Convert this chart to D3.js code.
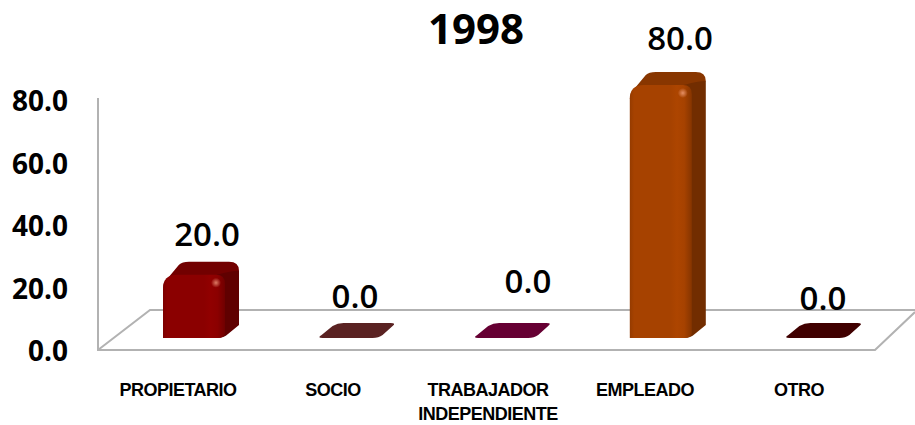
<!DOCTYPE html>
<html>
<head>
<meta charset="utf-8">
<script src="https://cdn.jsdelivr.net/npm/d3@7"></script>
<style>
  html, body { margin: 0; padding: 0; background: #fff; }
  text { font-family: "Open Sans", "Noto Sans", sans-serif; fill: #000; }
</style>
</head>
<body>
<div id="chart"></div>
<script>
// Chart data
const title = "1998";
const categories = ["PROPIETARIO", "SOCIO", "TRABAJADOR INDEPENDIENTE", "EMPLEADO", "OTRO"];
const values = [20, 0, 0, 80, 0];
const yTicks = [0, 20, 40, 60, 80];
const colors = ["#8b0000", "#5a2222", "#660033", "#a64200", "#400000"];

// Set up dimensions
const width = 915;
const height = 425;
const depthX = 14;
const depthY = 13;
const barWidth = 62;
const barBase = 338;
const floor = {x0: 98, x1: 875, front: 350, backX0: 150, backX1: 915, back: 310};

const svg = d3.select("#chart")
    .append("svg")
    .attr("width", width)
    .attr("height", height)
    .style("display", "block");

// Scales
const xScale = d3.scaleBand()
    .domain(categories)
    .range([115, 893])
    .padding(0);

// tick labels sit on the back of the floor, bars on a slightly different baseline
const yScale = d3.scaleLinear()
    .domain([0, 80])
    .range([351, 101]);

const barScale = d3.scaleLinear()
    .domain([0, 80])
    .range([barBase, 85]);

const barLeft = d => xScale(d) + (xScale.bandwidth() - barWidth) / 2 + 1.2;

// Floor and wall lines
svg.append("path")
    .attr("d", `M${floor.x0},98 V${floor.front} H${floor.x1} L${floor.backX1},${floor.back + 2}
                M${floor.x0},${floor.front} L${floor.backX0},${floor.back} H${floor.backX1}`)
    .attr("fill", "none")
    .attr("stroke", "#b2b2b2")
    .attr("stroke-width", 2);

// Y axis labels
const yAxis = d3.axisLeft(yScale)
    .tickValues(yTicks)
    .tickFormat(d3.format(".1f"))
    .tickSize(0)
    .tickPadding(30);

svg.append("g")
    .attr("transform", `translate(${floor.x0},0)`)
    .call(yAxis)
    .call(g => g.select(".domain").remove())
    .selectAll("text")
    .style("font-family", '"Open Sans", sans-serif')
    .style("font-size", "28px")
    .style("font-weight", "bold")
    .attr("dy", "0.35em");

// Gradients for the bar fronts
const defs = svg.append("defs");
categories.forEach((c, i) => {
    const g = defs.append("linearGradient")
        .attr("id", "front-" + i)
        .attr("x1", "0%").attr("x2", "100%");
    const base = d3.color(colors[i]);
    g.append("stop").attr("offset", "0%").attr("stop-color", base.darker(0.3));
    g.append("stop").attr("offset", "7%").attr("stop-color", base);
    g.append("stop").attr("offset", "66%").attr("stop-color", base);
    g.append("stop").attr("offset", "76%").attr("stop-color", base.brighter(0.12));
    g.append("stop").attr("offset", "88%").attr("stop-color", base);
    g.append("stop").attr("offset", "100%").attr("stop-color", base.darker(0.6));
});

const highlight = defs.append("radialGradient").attr("id", "glint");
highlight.append("stop").attr("offset", "0%").attr("stop-color", "#ffb090").attr("stop-opacity", 0.7);
highlight.append("stop").attr("offset", "100%").attr("stop-color", "#ffb090").attr("stop-opacity", 0);

// Bars
categories.forEach((c, i) => {
    const v = values[i];
    const x = barLeft(c);
    const yT = barScale(v);
    const base = d3.color(colors[i]);
    const right = x + barWidth;
    const g = svg.append("g");

    if (v === 0) {
        // empty bar is only a flat plate on the floor
        g.append("path")
            .attr("d", `M${x + 4},${barBase} Q${x - 2},${barBase} ${x + 3},${barBase - 3}
                        L${x + 14},${barBase - 12} Q${x + 19},${barBase - 15} ${x + 25},${barBase - 15}
                        H${right + depthX - 4} Q${right + depthX + 2},${barBase - 15} ${right + depthX - 2},${barBase - 12}
                        L${right + 2},${barBase - 3} Q${right - 2},${barBase} ${right - 8},${barBase} Z`)
            .attr("fill", colors[i]);
        return;
    }

    // top face
    g.append("path")
        .attr("d", `M${x},${yT + 14} Q${x},${yT + 6} ${x + 6},${yT + 2}
                    L${x + 16},${yT - depthY + 3} Q${x + 19},${yT - depthY} ${x + 26},${yT - depthY}
                    H${right + 4} Q${right + depthX},${yT - depthY} ${right + depthX},${yT - depthY + 9}
                    L${right},${yT + 10} Z`)
        .attr("fill", base.darker(0.55));

    // side face
    g.append("path")
        .attr("d", `M${right - 8},${yT} Q${right + 6},${yT - 4} ${right + depthX},${yT - 4}
                    V${barBase - depthY} L${right + 3},${barBase - 4}
                    Q${right - 1},${barBase} ${right - 8},${barBase} Z`)
        .attr("fill", base.darker(1.05));

    // front face
    g.append("path")
        .attr("d", `M${x},${barBase} V${yT + 14} Q${x},${yT} ${x + 14},${yT}
                    H${right - 9} Q${right},${yT} ${right},${yT + 9}
                    V${barBase - 5} Q${right},${barBase} ${right - 8},${barBase} H${x} Z`)
        .attr("fill", `url(#front-${i})`);

    g.append("circle")
        .attr("cx", right - 9)
        .attr("cy", yT + 8)
        .attr("r", 5)
        .attr("fill", "url(#glint)");
});

// Value labels, nudged the way they sit in the chart
const labelCx = [207, 355, 528, 680, 823];
const labelY = [246, 308, 293, 50, 310];
svg.selectAll(".value")
    .data(values)
    .enter()
    .append("text")
    .attr("class", "value")
    .attr("x", (d, i) => labelCx[i])
    .attr("y", (d, i) => labelY[i])
    .attr("text-anchor", "middle")
    .style("font-size", "33px")
    .style("font-weight", "600")
    .text(d => d3.format(".1f")(d));

// Category labels
const labelLines = {"TRABAJADOR INDEPENDIENTE": ["TRABAJADOR", "INDEPENDIENTE"]};
const catCx = [178, 333, 488, 645, 799];
categories.forEach((c, i) => {
    const t = svg.append("text")
        .attr("text-anchor", "middle")
        .style("font-family", '"Liberation Sans", sans-serif')
        .style("font-size", "18px")
        .style("font-weight", "bold")
        .style("letter-spacing", "-0.5px");
    (labelLines[c] || [c]).forEach((line, j) => {
        t.append("tspan")
            .attr("x", catCx[i])
            .attr("y", 396 + j * 24)
            .text(line);
    });
});

// Title
svg.append("text")
    .attr("x", 476)
    .attr("y", 44)
    .attr("text-anchor", "middle")
    .style("font-size", "42px")
    .style("font-weight", "bold")
    .text(title);
</script>
</body>
</html>
